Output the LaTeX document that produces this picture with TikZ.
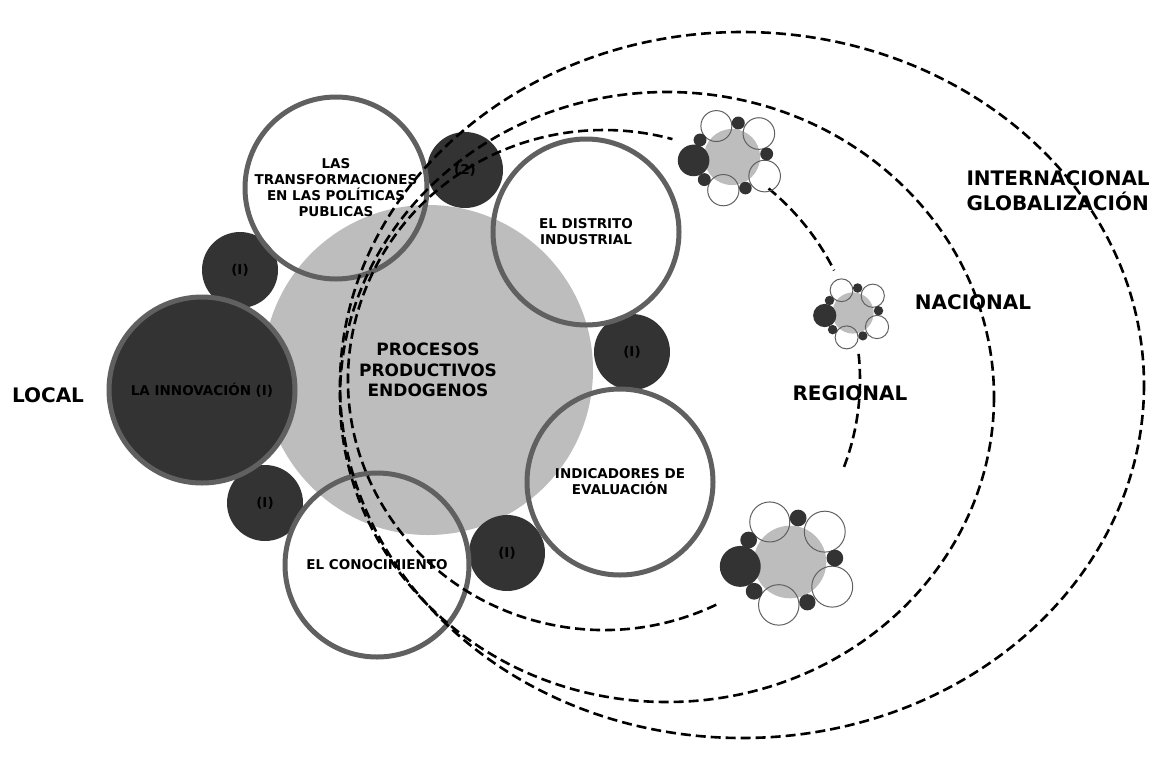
\documentclass[tikz,border=0pt]{standalone}
\usepackage{fontspec}
\setmainfont{DejaVu Sans}
\usepackage{tikz}
\usepackage{xcolor}
\definecolor{discdark}{RGB}{51,51,51}
\definecolor{ringgray}{RGB}{96,96,96}
\definecolor{procgray}{RGB}{189,189,189}

\tikzset{
	mini/.pic={
		\fill[procgray] (0,0) circle[radius=165];
		\foreach \a/\b/\r in {-92/-182/91,158/-138/93,192/112/93,-51/195/92}
			\draw[ringgray,line width=1pt] (\a,\b) circle[radius=\r];
		\foreach \a/\b/\r in {-226/20/93,-188/-100/38,37/-200/38,204/-18/38,79/183/37,-163/133/38}
			\fill[discdark] (\a,\b) circle[radius=\r];
	}
}

\begin{document}
\begin{tikzpicture}[x=1pt,y=-1pt,
		lbl/.style={font=\bfseries\fontsize{13.5}{16}\selectfont,align=center,inner sep=0pt},
		ring/.style={circle,draw=ringgray,line width=5pt,lbl},
		disc/.style={circle,fill=discdark,lbl,minimum size=76pt},
		level/.style={font=\bfseries\fontsize{20}{25}\selectfont},
		regline/.style={line width=2.6pt,dash pattern=on 10pt off 5pt}]
						\useasboundingbox (0,0) rectangle (1170,756);
						\node[circle,fill=procgray,minimum size=330pt,inner sep=0pt,align=center,font=\bfseries\fontsize{17}{20.5}\selectfont] (proc) at (428,370) {PROCESOS\\PRODUCTIVOS\\ENDOGENOS};
						\node[disc] (ia) at (240,270) {(I)};
						\node[disc] (ib) at (265,503) {(I)};
						\node[disc] (two) at (465,170) {(2)};
						\node[disc] (ic) at (632,352) {(I)};
						\node[disc] (id) at (507,553) {(I)};
						\node[ring,fill=discdark,minimum size=186pt] (innov) at (202,390) {LA INNOVACIÓN (I)};
						\node[ring,minimum size=182pt] (trans) at (336,188) {LAS\\TRANSFORMACIONES\\EN LAS POLÍTICAS\\PUBLICAS};
						\node[ring,minimum size=186pt] (dist) at (586,232) {EL DISTRITO\\INDUSTRIAL};
						\node[ring,minimum size=186pt] (indic) at (620,482) {INDICADORES DE\\EVALUACIÓN};
						\node[ring,minimum size=184pt] (conoc) at (377,565) {EL CONOCIMIENTO};
						\node[level] (local) at (48,395) {LOCAL};
						\node[level] (reg) at (850,393) {REGIONAL};
						\node[level] (nac) at (973,302) {NACIONAL};
						\node[level,align=left,anchor=west] (intl) at (963,191) {INTERNACIONAL\\GLOBALIZACIÓN};
						\coordinate (regc) at (604,380);
						\coordinate (natc) at (667,397);
						\coordinate (intc) at (742,385);
						\draw[regline] (natc) ellipse[x radius=327,y radius=305];
						\draw[regline] (intc) ellipse[x radius=402,y radius=353];
						\draw[regline] (regc) ++(64:256 and 250) arc[start angle=64,end angle=285.5,x radius=256,y radius=250];
						\draw[regline] (regc) ++(-50:256 and 250) arc[start angle=-50,end angle=-26,x radius=256,y radius=250];
						\draw[regline] (regc) ++(-6:256 and 250) arc[start angle=-6,end angle=21,x radius=256,y radius=250];
						\pic (topcl) [scale=0.17] at (732,157) {mini};
						\pic (midcl) [scale=0.125] at (853,313) {mini};
						\pic (lowcl) [scale=0.22] at (790,562) {mini};
					\end{tikzpicture}
\end{document}
